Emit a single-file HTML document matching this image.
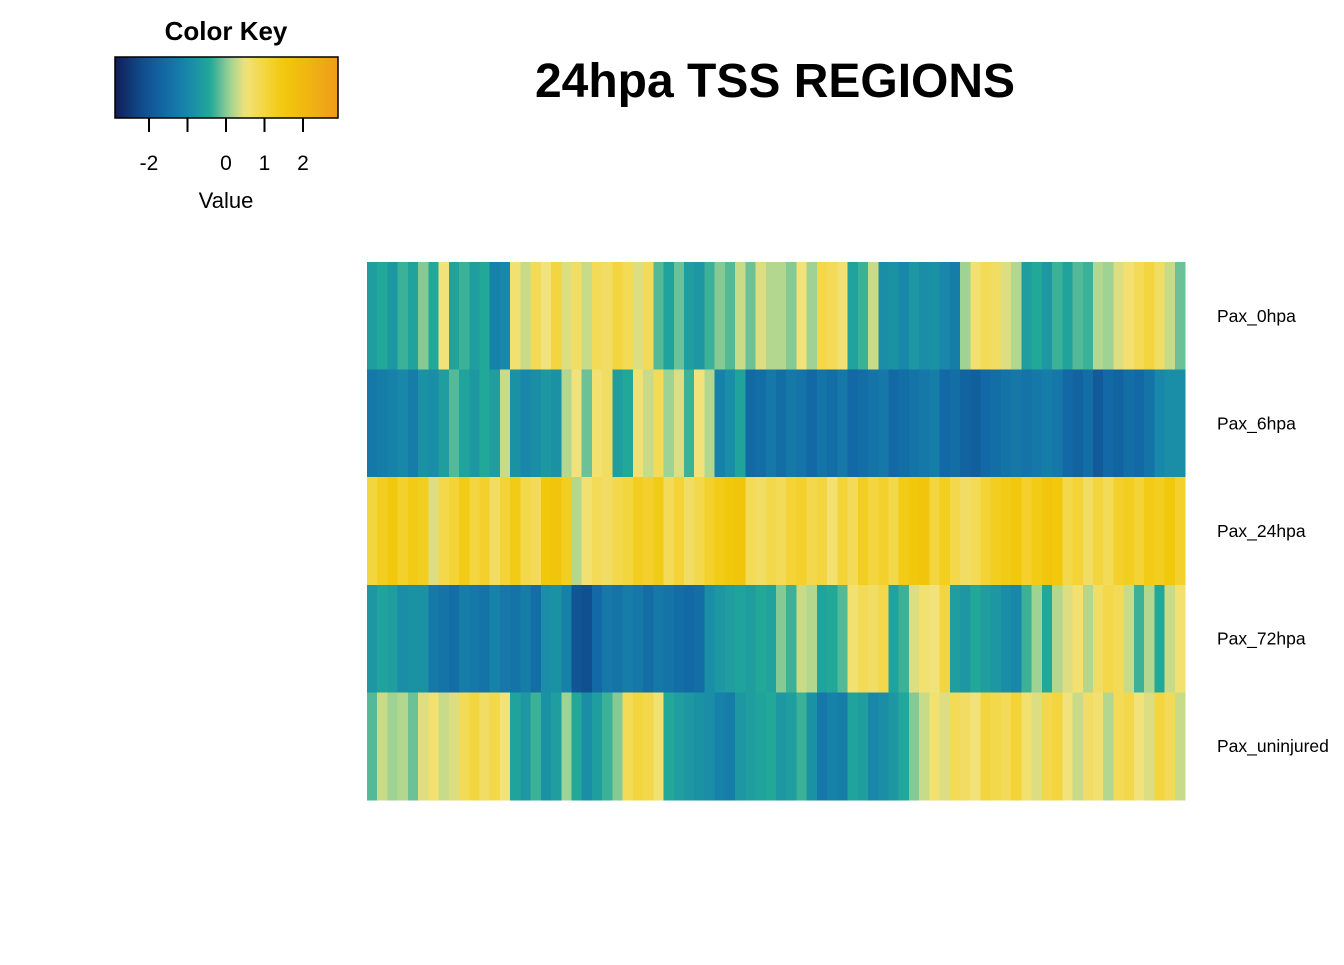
<!DOCTYPE html>
<html><head><meta charset="utf-8"><style>
body{margin:0;background:#fff;}
svg text{font-family:"Liberation Sans",Arial,sans-serif;}
</style></head><body>
<svg id="chart" width="1344" height="960" xmlns="http://www.w3.org/2000/svg">
<defs><linearGradient id="kg" x1="0" x2="1" y1="0" y2="0"></linearGradient></defs>
<text x="226" y="40" font-size="26" font-weight="bold" text-anchor="middle">Color Key</text>
<rect x="115" y="57" width="223" height="61" fill="url(#kg)" stroke="#000" stroke-width="1.5"/>
<g id="keyticks"></g>
<text x="226" y="208" font-size="22" text-anchor="middle">Value</text>
<text x="775" y="97" font-size="48" font-weight="bold" text-anchor="middle">24hpa TSS REGIONS</text>
<g id="cells" shape-rendering="crispEdges"></g>
<g id="rowlabels"></g>
</svg>
<script>
const rowNames = ["Pax_0hpa","Pax_6hpa","Pax_24hpa","Pax_72hpa","Pax_uninjured"];
const row0 = [-0.6,-0.4,-0.7,-0.3,-0.5,0,-0.4,0.5,-0.5,-0.3,-0.6,-0.4,-1.1,-1.0,0.6,0.3,0.8,0.5,1.0,0.4,0.7,0.3,0.8,0.7,1.0,0.8,0.4,0.8,-0.2,-0.5,-0.1,-0.6,-0.7,-0.3,0,-0.2,0.3,-0.1,0.4,0.2,
 0.2,0,0.5,0.1,0.9,0.8,0.6,-0.5,-0.3,0.3,-0.9,-0.8,-1.0,-0.7,-0.9,-0.8,-1.0,-1.2,0.1,0.6,0.8,0.7,0.4,0.2,-0.6,-0.4,-0.7,-0.3,-0.5,-0.2,-0.3,0.2,0.1,0.4,0.6,0.8,1.0,0.7,0.3,-0.1];
const row1 = [-1.3,-1.2,-1.1,-1.0,-1.2,-0.8,-0.9,-0.6,-0.2,-0.5,-0.7,-0.4,-0.6,0.3,-0.8,-1.0,-0.9,-0.7,-0.8,0.2,0.5,-0.1,0.6,0.7,-0.6,-0.4,0.6,0.3,0.8,0.1,0.4,-0.3,0.5,0.2,-1.1,-0.9,-0.5,-1.6,-1.5,-1.3,
 -1.5,-1.3,-1.4,-1.6,-1.4,-1.5,-1.3,-1.6,-1.5,-1.4,-1.3,-1.6,-1.5,-1.4,-1.3,-1.2,-1.6,-1.5,-1.7,-1.8,-1.6,-1.5,-1.4,-1.3,-1.4,-1.3,-1.2,-1.3,-1.6,-1.7,-1.5,-1.9,-1.6,-1.7,-1.5,-1.6,-1.4,-1.0,-0.9,-0.9];
const row2 = [1.0,1.3,1.5,1.2,1.4,1.3,0.4,0.9,1.1,1.4,1.0,1.2,0.7,1.1,1.4,0.9,0.8,1.5,1.6,1.3,0.2,0.6,0.8,0.7,0.9,1.0,1.3,1.2,1.4,0.8,1.1,0.7,0.9,1.2,1.4,1.5,1.6,0.8,0.7,0.9,
 0.8,1.1,1.2,0.9,1.0,0.6,1.1,0.8,1.3,1.0,1.2,0.9,1.4,1.5,1.6,1.0,1.3,0.9,0.7,0.8,1.1,1.3,1.4,1.5,1.2,1.4,1.6,1.5,0.9,1.1,0.7,1.0,0.8,1.2,1.3,1.1,1.4,1.3,1.5,1.2];
const row3 = [-0.7,-0.5,-0.6,-0.9,-0.8,-0.8,-1.3,-1.4,-1.5,-1.2,-1.3,-1.4,-1.1,-1.3,-1.4,-1.2,-1.5,-0.9,-0.8,-1.1,-2.0,-2.1,-1.6,-1.3,-1.4,-1.2,-1.3,-1.5,-1.3,-1.4,-1.5,-1.6,-1.5,-0.9,-0.7,-0.6,-0.5,-0.6,-0.4,-0.5,
 0.0,-0.3,0.3,0.2,-0.5,-0.4,-0.2,0.6,0.8,0.7,0.9,-0.5,-0.3,0.4,0.6,0.5,1.0,-0.6,-0.7,-0.4,-0.6,-0.7,-0.9,-1.0,-0.3,0.1,-0.4,0.2,0.4,0.6,0.2,0.7,0.9,0.8,0.3,-0.3,0.2,-0.4,0.3,0.6];
const row4 = [-0.2,0.3,0.1,0.2,-0.1,0.4,0.6,0.3,0.4,0.8,1.0,0.7,0.9,0.5,-0.5,-0.7,-0.3,-0.8,-0.6,0.1,-0.4,-0.9,-0.6,-0.3,0.0,0.8,1.0,0.9,0.6,-0.4,-0.6,-0.7,-0.8,-0.9,-1.1,-1.2,-0.7,-0.6,-0.5,-0.4,
 -0.7,-0.6,-0.3,-0.8,-1.3,-1.1,-1.2,-0.5,-0.6,-1.0,-0.9,-0.7,-0.4,0.0,0.3,0.6,0.4,0.8,0.7,0.5,1.0,0.9,0.8,1.1,0.6,0.4,0.9,1.0,0.5,0.3,0.7,0.6,0.2,0.8,0.9,0.5,0.4,1.0,0.8,0.3];
const keyTicks = [-2,-1,0,1,2];
const keyTickLabels = ["-2","","0","1","2"];

const stops=[[-2.9,[17,26,85]],[-2.2,[17,75,140]],[-1.6,[18,105,165]],[-1.0,[24,135,170]],[-0.4,[34,168,153]],[0.1,[158,211,148]],[0.5,[242,226,124]],[1.0,[243,214,63]],[1.5,[242,200,12]],[2.2,[239,179,19]],[2.9,[239,156,26]]];
function color(v){
  if(v<=stops[0][0])return 'rgb('+stops[0][1]+')';
  for(let i=1;i<stops.length;i++){if(v<=stops[i][0]){const a=stops[i-1],b=stops[i],t=(v-a[0])/(b[0]-a[0]);
    return 'rgb('+a[1].map((c,k)=>Math.round(c+(b[1][k]-c)*t)).join(',')+')';}}
  return 'rgb('+stops[stops.length-1][1]+')';
}
const NS="http://www.w3.org/2000/svg";
const keyX=v=>226+v*38.5;
const grad=document.getElementById('kg');
for(let i=0;i<=40;i++){const v=-2.88+5.78*i/40;const s=document.createElementNS(NS,'stop');s.setAttribute('offset',(i/40));s.setAttribute('stop-color',color(v));grad.appendChild(s);}
const kt=document.getElementById('keyticks');
keyTicks.forEach((t,i)=>{
  const l=document.createElementNS(NS,'line');
  
  
  l.setAttribute('x1',keyX(t));l.setAttribute('x2',keyX(t));l.setAttribute('y1',118);l.setAttribute('y2',132);l.setAttribute('stroke','#000');l.setAttribute('stroke-width','2');kt.appendChild(l);
  const tx=document.createElementNS(NS,'text');
  
  
  tx.setAttribute('x',keyX(t));tx.setAttribute('y',170);tx.setAttribute('font-size','21');tx.setAttribute('text-anchor','middle');tx.textContent=keyTickLabels[i];kt.appendChild(tx);
});
const rows=[row0,row1,row2,row3,row4];
const x0=367,x1=1185,y0=262,y1=800;
const rowH=(y1-y0)/rows.length;
const cells=document.getElementById('cells');
const rl=document.getElementById('rowlabels');
rows.forEach((r,ri)=>{
  const cw=(x1-x0)/r.length;
  r.forEach((v,ci)=>{
    const rc=document.createElementNS(NS,'rect');
    
    
    rc.setAttribute('x',(x0+ci*cw).toFixed(2));rc.setAttribute('y',(y0+ri*rowH).toFixed(2));
    rc.setAttribute('width',(cw+0.6).toFixed(2));rc.setAttribute('height',(rowH+0.6).toFixed(2));
    rc.setAttribute('fill',color(v));cells.appendChild(rc);
  });
  const t=document.createElementNS(NS,'text');
  
  
  t.setAttribute('x',1217);t.setAttribute('y',(y0+(ri+0.5)*rowH+6).toFixed(1));t.setAttribute('font-size','17.5');t.textContent=rowNames[ri];rl.appendChild(t);
});
</script>
</body></html>
